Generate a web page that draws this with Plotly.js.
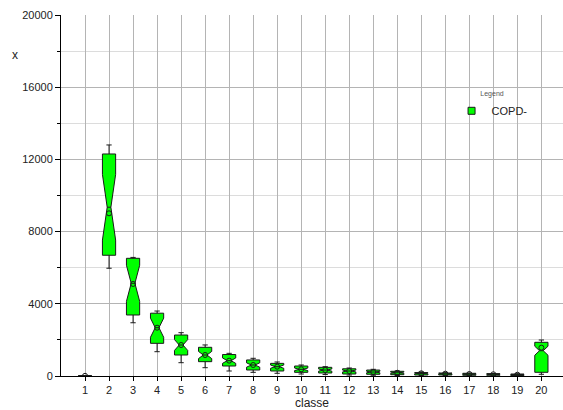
<!DOCTYPE html>
<html>
<head>
<meta charset="utf-8">
<script src="https://cdn.plot.ly/plotly-3.0.1.min.js"></script>
<style>html,body{margin:0;padding:0;background:#fff;}#chart{width:563px;height:410px;}</style>
</head>
<body>
<div id="chart"></div>
<script>
const classes = [1,2,3,4,5,6,7,8,9,10,11,12,13,14,15,16,17,18,19,20];
const upperFence = [25, 12800, 6570, 3600, 2400, 1720, 1256, 980, 776, 609, 517, 443, 370, 277, 220, 180, 160, 140, 120, 1994];
const q3Values   = [15, 12300, 6520, 3480, 2270, 1590, 1190, 890, 700, 554, 480, 400, 330, 260, 190, 166, 150, 130, 110, 1867];
const medians    = [10, 9350, 5135, 2676, 1717, 1163, 850, 609, 517, 370, 330, 277, 220, 180, 150, 130, 110, 95, 72, 1400];
const q1Values   = [5, 6690, 3380, 1810, 1163, 794, 554, 332, 277, 203, 166, 110, 95, 72, 55, 55, 40, 40, 30, 205];
const lowerFence = [0, 5970, 2950, 1346, 737, 460, 277, 203, 150, 110, 80, 55, 40, 30, 20, 20, 15, 15, 10, 95];
const means      = [10, 9013, 5100, 2676, 1717, 1163, 850, 609, 517, 370, 330, 277, 220, 180, 150, 130, 110, 95, 72, 1570];
const notchSpans = [2, 1820, 1000, 530, 300, 200, 150, 120, 90, 70, 60, 50, 40, 35, 25, 25, 20, 20, 15, 250];
const yTickVals = [0, 4000, 8000, 12000, 16000, 20000];
const seriesName = 'COPD-';

const font = 'Liberation Sans, Arial, sans-serif';

const boxTrace = {
  type: 'box',
  name: seriesName,
  x: classes,
  q1: q1Values,
  median: medians,
  q3: q3Values,
  lowerfence: lowerFence,
  upperfence: upperFence,
  notched: true,
  notchspan: notchSpans,
  notchwidth: 0.36,
  width: 0.55,
  whiskerwidth: 0.4,
  fillcolor: '#00ff00',
  line: {color: '#1a1a1a', width: 1},
  boxpoints: false,
  showlegend: false,
  hoverinfo: 'skip'
};

const meanTrace = {
  type: 'scatter',
  mode: 'markers',
  x: classes,
  y: means,
  marker: {symbol: 'circle-open', size: 5, color: '#1a1a1a', line: {width: 1}},
  showlegend: false,
  hoverinfo: 'skip'
};

// legend entry only (no data points)
const legendTrace = {
  type: 'scatter',
  mode: 'markers',
  name: seriesName,
  x: [null],
  y: [null],
  marker: {symbol: 'square', size: 7, color: '#00ff00', line: {color: '#1a1a1a', width: 1}},
  showlegend: true,
  hoverinfo: 'skip'
};

const layout = {
  width: 563,
  height: 410,
  margin: {l: 61, r: 0, t: 15, b: 34},
  paper_bgcolor: '#fff',
  plot_bgcolor: '#fff',
  font: {family: font, size: 11, color: '#222'},
  xaxis: {
    range: [0, 20.9],
    tickvals: classes,
    ticktext: classes.map(String),
    ticks: 'outside',
    ticklen: 4,
    tickcolor: '#000',
    showline: true,
    linecolor: '#000',
    linewidth: 1,
    showgrid: true,
    gridcolor: '#b4b4b4',
    gridwidth: 1,
    zeroline: false,
    tickfont: {family: font, size: 11, color: '#222'},
    title: {text: 'classe', font: {family: font, size: 12, color: '#222'}, standoff: 2}
  },
  yaxis: {
    range: [0, 20000],
    tickvals: yTickVals,
    ticktext: yTickVals.map(String),
    ticks: 'outside',
    ticklen: 5,
    tickcolor: '#000',
    showline: true,
    linecolor: '#000',
    linewidth: 1,
    showgrid: true,
    gridcolor: '#b4b4b4',
    gridwidth: 1,
    zeroline: false,
    tickfont: {family: font, size: 11, color: '#222'},
    minor: {dtick: 2000, tick0: 0, ticks: 'outside', ticklen: 3, tickcolor: '#000', showgrid: true, gridcolor: '#dcdcdc', gridwidth: 1}
  },
  showlegend: true,
  legend: {
    x: 0.778, y: 0.80, xanchor: 'left', yanchor: 'top',
    bgcolor: 'rgba(0,0,0,0)',
    borderwidth: 0,
    font: {family: font, size: 11, color: '#222'},
    title: {text: 'Legend', side: 'top center', font: {family: font, size: 7, color: '#555'}},
    itemwidth: 30
  },
  annotations: [
    {text: 'x', xref: 'paper', yref: 'paper', x: -0.092, y: 0.89, xanchor: 'center', yanchor: 'middle', showarrow: false, font: {family: font, size: 12, color: '#222'}}
  ]
};

Plotly.newPlot('chart', [boxTrace, meanTrace, legendTrace], layout, {displayModeBar: false, staticPlot: true});
</script>
</body>
</html>
